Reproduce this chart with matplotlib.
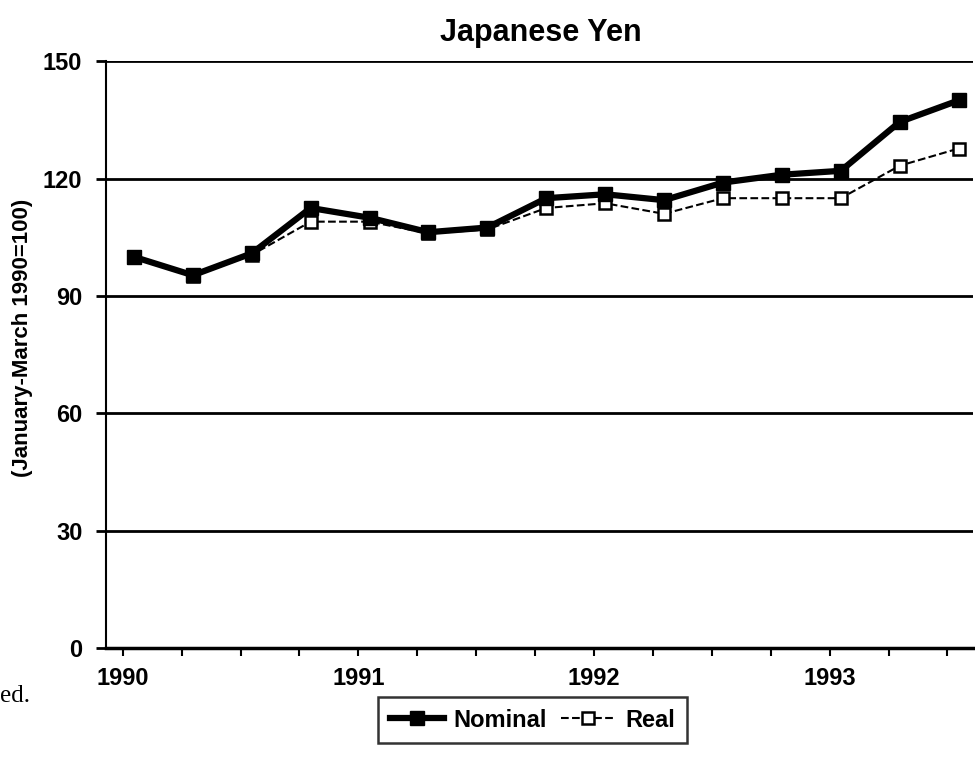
import matplotlib.pyplot as plt
import numpy as np

plt.rcParams['font.family'] = ['Liberation Sans', 'DejaVu Sans']

# quarterly, 1990 Q1 .. 1993 Q3
quarters = np.arange(15)
nominal = [100, 95.3, 100.9, 112.5, 110, 106.3, 107.5, 115, 116, 114.5,
           119, 121, 122, 134.5, 140]
real = [100, 95, 100.5, 109, 109, 106, 107, 112.5, 113.7, 111,
        115, 115, 115, 123.3, 127.7]
years = ['1990', '1991', '1992', '1993']
yticks = [0, 30, 60, 90, 120, 150]

fig = plt.figure(figsize=(9.75, 7.66), dpi=100)
ax = fig.add_axes([0.1087, 0.154, 0.889, 0.766])

ax.plot(quarters, real, '--', color='black', lw=1.5, marker='s',
        markersize=9, markerfacecolor='white', markeredgewidth=1.8,
        label='Real', zorder=4)
ax.plot(quarters, nominal, '-', color='black', lw=4.5, marker='s',
        markersize=10, markerfacecolor='black', label='Nominal', zorder=5)

ax.set_ylim(0, 150)
ax.set_xlim(-0.475, 14.24)
ax.set_yticks(yticks)
for v in yticks[1:]:
    ax.axhline(v, color='black', lw=2, zorder=1)

# quarter ticks sit a little left of the data points
tick_off = -0.19
ax.set_xticks(quarters + tick_off)
ax.set_xticklabels([years[i // 4] if i % 4 == 0 else '' for i in quarters])
ax.tick_params(axis='x', direction='out', length=6, width=1.5, pad=8)
ax.tick_params(axis='y', direction='out', length=7, width=2, pad=10)
for lab in ax.get_xticklabels() + ax.get_yticklabels():
    lab.set_fontsize(17)
    lab.set_fontweight('bold')

ax.spines['top'].set_visible(False)
ax.spines['right'].set_visible(False)
ax.spines['left'].set_linewidth(1.5)
ax.spines['bottom'].set_linewidth(2.5)

fig.text(0.023, 0.559, '(January-March 1990=100)', rotation=90,
         ha='center', va='center', fontsize=16, fontweight='bold')
fig.text(0.555, 0.957, 'Japanese Yen', ha='center', va='center',
         fontsize=22, fontweight='bold')
fig.text(0.0, 0.092, 'ed.', ha='left', va='center', fontsize=18,
         family=['Liberation Serif', 'DejaVu Serif'])

handles, labels = ax.get_legend_handles_labels()
leg = fig.legend(handles[::-1], labels[::-1], loc='center',
                 bbox_to_anchor=(0.546, 0.06), ncol=2,
                 frameon=True, fancybox=False, edgecolor='black',
                 prop={'size': 17, 'weight': 'bold'}, handlelength=2.3,
                 columnspacing=0.6, handletextpad=0.4, borderpad=0.5)
leg.get_frame().set_linewidth(1.8)

fig.savefig('out.png', dpi=100, facecolor='white')
